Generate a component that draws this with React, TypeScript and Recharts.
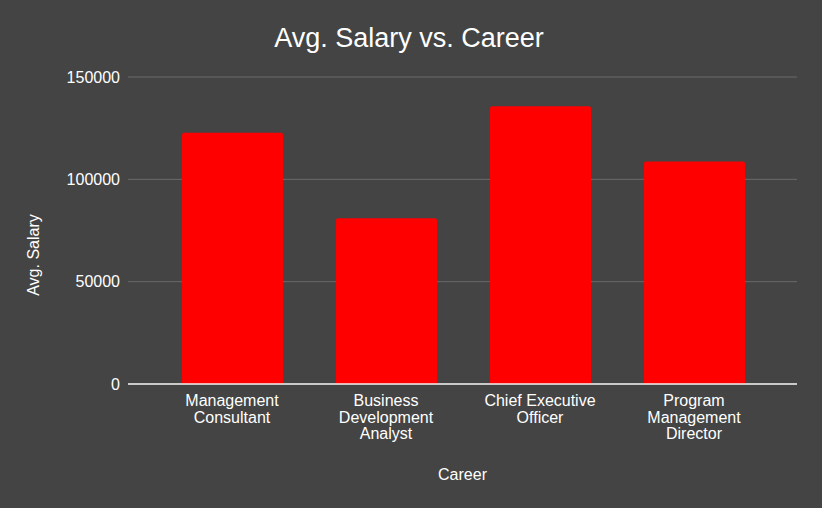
import { BarChart, Bar, XAxis, YAxis, CartesianGrid, Text } from 'recharts';

const careers = [
  'Management Consultant',
  'Business Development Analyst',
  'Chief Executive Officer',
  'Program Management Director',
];
const avgSalary = [122700, 81000, 135700, 108700];
const salaryTicks = [0, 50000, 100000, 150000];

const data = careers.map((career, i) => ({ career, salary: avgSalary[i] }));

const FONT = 'Arial, "Liberation Sans", sans-serif';
const BG = '#444444';

if (typeof document !== 'undefined') {
  document.body.style.margin = '0';
  document.body.style.background = BG;
}

function CareerTick(props: any) {
  const { x, y, payload } = props;
  return (
    <Text
      x={x}
      y={y + 3}
      width={122}
      textAnchor="middle"
      verticalAnchor="start"
      lineHeight={16.5}
      fill="#ffffff"
      fontSize={16}
      fontFamily={FONT}
    >
      {payload.value}
    </Text>
  );
}

function SalaryLabel(props: any) {
  const vb = props.viewBox;
  const cx = vb.x + 33;
  const cy = vb.y + vb.height / 2 + 24.5;
  return (
    <text
      x={cx}
      y={cy}
      transform={`rotate(-90, ${cx}, ${cy})`}
      textAnchor="middle"
      dominantBaseline="central"
      fill="#ffffff"
      fontSize={16}
      fontFamily={FONT}
    >
      Avg. Salary
    </text>
  );
}

export default function App() {
  return (
    <div
      style={{
        position: 'absolute',
        left: 0,
        top: 0,
        width: 822,
        height: 508,
        background: BG,
      }}
    >
      <div
        style={{
          position: 'absolute',
          left: 0,
          width: 822,
          top: 23,
          lineHeight: '30px',
          textAlign: 'center',
          color: '#ffffff',
          fontSize: 27,
          fontFamily: FONT,
          marginLeft: -2,
        }}
      >
        Avg. Salary vs. Career
      </div>
      <BarChart
        width={822}
        height={508}
        data={data}
        margin={{ top: 77, right: 25, left: 0, bottom: 0 }}
        barSize={101}
      >
        <CartesianGrid horizontal vertical={false} stroke="#6a6a6a" strokeWidth={1} />
        <XAxis
          dataKey="career"
          height={124}
          padding={{ left: 27, right: 26 }}
          axisLine={{ stroke: '#f0f0f0', strokeWidth: 1.5 }}
          tickLine={false}
          interval={0}
          tick={<CareerTick />}
          label={{
            value: 'Career',
            position: 'insideBottom',
            offset: 28,
            fill: '#ffffff',
            fontSize: 16,
            fontFamily: FONT,
          }}
        />
        <YAxis
          width={128}
          domain={[0, 150000]}
          ticks={salaryTicks}
          axisLine={false}
          tickLine={false}
          tick={{ fill: '#ffffff', fontSize: 16, fontFamily: FONT }}
          label={<SalaryLabel />}
        />
        <Bar dataKey="salary" fill="#ff0000" radius={[2, 2, 0, 0]} isAnimationActive={false} />
      </BarChart>
    </div>
  );
}
